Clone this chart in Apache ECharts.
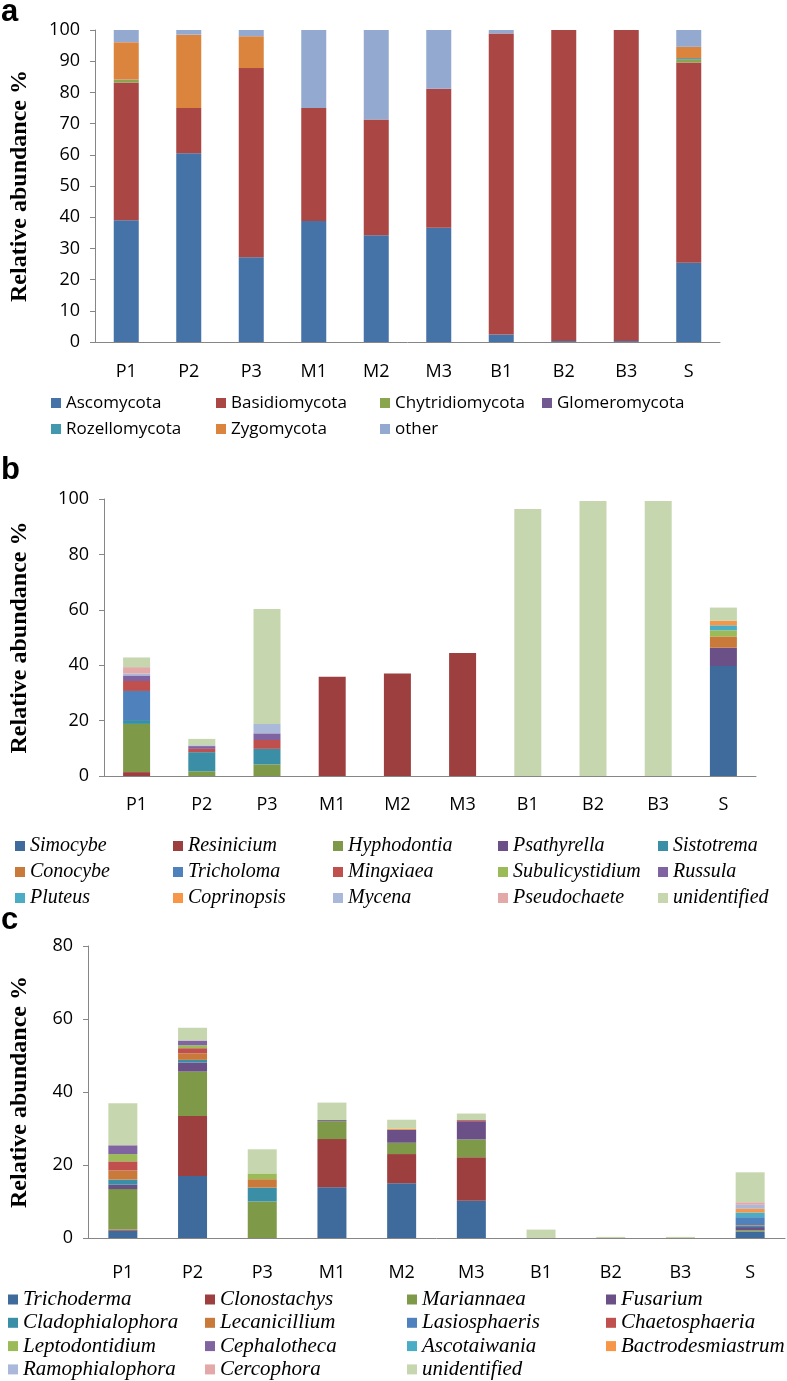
<!DOCTYPE html>
<html lang="en">
<head>
<meta charset="UTF-8">
<title>fungal community composition</title>
<script src="https://cdn.jsdelivr.net/npm/echarts@6/dist/echarts.min.js"></script>
<style>html,body{margin:0;padding:0;background:#fff;}</style>
</head>
<body>
<div id="main" style="width:787px;height:1381px;"></div>
<script>
// sample sites (x axis of every panel)
var samples = ['P1', 'P2', 'P3', 'M1', 'M2', 'M3', 'B1', 'B2', 'B3', 'S'];

// panel a - phyla, % of reads
var phyla = ['Ascomycota', 'Basidiomycota', 'Chytridiomycota', 'Glomeromycota', 'Rozellomycota', 'Zygomycota', 'other'];
var ascomycota      = [39.0, 60.5, 27.2, 38.8, 34.2, 36.6, 2.4, 0.3, 0.3, 25.4];
var basidiomycota   = [44.2, 14.5, 60.6, 36.2, 37.1, 44.6, 96.5, 99.7, 99.7, 64.2];
var chytridiomycota = [0.8, 0, 0, 0, 0, 0, 0, 0, 0, 1.0];
var glomeromycota   = [0.1, 0, 0, 0, 0, 0, 0, 0, 0, 0.1];
var rozellomycota   = [0, 0, 0, 0, 0, 0, 0, 0, 0, 0.3];
var zygomycota      = [12.0, 23.5, 10.2, 0, 0, 0, 0, 0, 0, 3.6];
var otherPhyla      = [3.9, 1.5, 2.0, 25.0, 28.7, 18.8, 1.1, 0, 0, 5.4];
var phylaValues = [ascomycota, basidiomycota, chytridiomycota, glomeromycota, rozellomycota, zygomycota, otherPhyla];
var phylaColors = ['#4572A7', '#AA4643', '#89A54E', '#71588F', '#4198AF', '#DB843D', '#93A9CF'];

// panel b - basidiomycete genera
var basidioGenera = ['Simocybe', 'Resinicium', 'Hyphodontia', 'Psathyrella', 'Sistotrema',
    'Conocybe', 'Tricholoma', 'Mingxiaea', 'Subulicystidium', 'Russula',
    'Pluteus', 'Coprinopsis', 'Mycena', 'Pseudochaete', 'unidentified'];
var simocybe        = [0, 0, 0, 0, 0, 0, 0, 0, 0, 39.7];
var resinicium      = [1.4, 0, 0, 35.8, 37.0, 44.4, 0, 0, 0, 0];
var hyphodontia     = [17.4, 1.7, 4.2, 0, 0, 0, 0, 0, 0, 0];
var psathyrella     = [0, 0, 0, 0, 0, 0, 0, 0, 0, 6.6];
var sistotrema      = [1.4, 6.9, 5.6, 0, 0, 0, 0, 0, 0, 0];
var conocybe        = [0, 0, 0, 0, 0, 0, 0, 0, 0, 4.1];
var tricholoma      = [10.5, 0, 0, 0, 0, 0, 0, 0, 0, 0];
var mingxiaea       = [3.6, 1.2, 3.2, 0, 0, 0, 0, 0, 0, 0];
var subulicystidium = [0, 0, 0, 0, 0, 0, 0, 0, 0, 2.2];
var russula         = [2.0, 1.0, 2.4, 0, 0, 0, 0, 0, 0, 0];
var pluteus         = [0, 0, 0, 0, 0, 0, 0, 0, 0, 1.8];
var coprinopsis     = [0, 0, 0, 0, 0, 0, 0, 0, 0, 1.6];
var mycena          = [0.7, 0.3, 3.4, 0, 0, 0, 0, 0, 0, 0];
var pseudochaete    = [2.3, 0, 0, 0, 0, 0, 0, 0, 0, 0];
var unidentifiedB   = [3.5, 2.3, 41.5, 0, 0, 0, 96.4, 99.3, 99.3, 4.8];
var basidioValues = [simocybe, resinicium, hyphodontia, psathyrella, sistotrema, conocybe, tricholoma,
    mingxiaea, subulicystidium, russula, pluteus, coprinopsis, mycena, pseudochaete, unidentifiedB];

// panel c - ascomycete genera
var ascoGenera = ['Trichoderma', 'Clonostachys', 'Mariannaea', 'Fusarium',
    'Cladophialophora', 'Lecanicillium', 'Lasiosphaeris', 'Chaetosphaeria',
    'Leptodontidium', 'Cephalotheca', 'Ascotaiwania', 'Bactrodesmiastrum',
    'Ramophialophora', 'Cercophora', 'unidentified'];
var trichoderma       = [2.0, 17.0, 0, 13.9, 15.0, 10.2, 0, 0, 0, 1.7];
var clonostachys      = [0.3, 16.4, 0, 13.2, 8.0, 11.9, 0, 0, 0, 0];
var mariannaea        = [11.1, 12.2, 10.0, 4.9, 3.1, 4.9, 0, 0, 0, 0.4];
var fusarium          = [1.2, 2.5, 0, 0.3, 3.5, 5.0, 0, 0, 0, 0.9];
var cladophialophora  = [1.4, 0.7, 3.8, 0, 0, 0, 0, 0, 0, 0.3];
var lecanicillium     = [2.5, 1.8, 2.3, 0, 0, 0, 0, 0, 0, 0.2];
var lasiosphaeris     = [0, 0, 0, 0, 0, 0, 0, 0, 0, 2.2];
var chaetosphaeria    = [2.5, 1.4, 0, 0, 0, 0.3, 0, 0, 0, 0];
var leptodontidium    = [2.0, 0.8, 1.6, 0, 0, 0, 0, 0, 0, 0];
var cephalotheca      = [2.4, 1.3, 0, 0, 0, 0, 0, 0, 0, 0];
var ascotaiwania      = [0, 0, 0, 0, 0, 0, 0, 0, 0, 1.3];
var bactrodesmiastrum = [0, 0, 0, 0, 0.3, 0, 0, 0, 0, 1.0];
var ramophialophora   = [0, 0, 0, 0, 0, 0, 0, 0, 0, 1.1];
var cercophora        = [0, 0, 0, 0, 0, 0, 0, 0, 0, 0.7];
var unidentifiedC     = [11.5, 3.5, 6.6, 4.8, 2.5, 1.8, 2.3, 0.3, 0.3, 8.2];
var ascoValues = [trichoderma, clonostachys, mariannaea, fusarium, cladophialophora, lecanicillium,
    lasiosphaeris, chaetosphaeria, leptodontidium, cephalotheca, ascotaiwania, bactrodesmiastrum,
    ramophialophora, cercophora, unidentifiedC];

// excel-like palette used by panels b and c
var genusColors = ['#3F6A9C', '#9C3F3E', '#7E9A48', '#6A5087', '#3A8FA7', '#C9793A',
    '#4F81BD', '#C0504D', '#9BBB59', '#8064A2', '#4BACC6', '#F79646', '#AAB8D9', '#E2A9A8', '#C6D7AF'];

var chart = echarts.init(document.getElementById('main'));

var tickFont = 'Open Sans';
var axisGrey = '#868686';

function xAxisFor(i, margin) {
    return {
        type: 'category', gridIndex: i, data: samples,
        axisLine: { lineStyle: { color: axisGrey, width: 1 } },
        axisTick: { length: 6, lineStyle: { color: axisGrey } },
        axisLabel: { margin: margin, fontSize: 18, color: '#000', fontFamily: tickFont }
    };
}
function yAxisFor(i, max, step, gap) {
    return {
        type: 'value', gridIndex: i, min: 0, max: max, interval: step,
        splitLine: { show: false },
        axisLine: { show: true, lineStyle: { color: axisGrey } },
        axisTick: { show: true, length: 5, lineStyle: { color: axisGrey } },
        axisLabel: { margin: 15, fontSize: 18, color: '#000', fontFamily: tickFont },
        name: 'Relative abundance %', nameLocation: 'middle', nameGap: gap,
        nameTextStyle: { fontFamily: 'Liberation Serif', fontWeight: 'bold', fontSize: 24, color: '#000' }
    };
}

var series = [];
function addStack(names, values, colors, idx, width) {
    names.forEach(function (n, k) {
        series.push({
            name: n, type: 'bar', stack: 'panel' + idx,
            xAxisIndex: idx, yAxisIndex: idx,
            barWidth: width, data: values[k],
            itemStyle: { color: colors[k] }
        });
    });
}
addStack(phyla, phylaValues, phylaColors, 0, 25);
addStack(basidioGenera, basidioValues, genusColors, 1, 27);
addStack(ascoGenera, ascoValues, genusColors, 2, 29);

// one small legend per entry, placed on a column/row grid like the original
var legends = [];
function addLegendGrid(names, lefts, firstRow, rowStep, text) {
    var n = lefts.length;
    names.forEach(function (name, k) {
        var col = k % n, row = Math.floor(k / n);
        legends.push({
            left: lefts[col], top: firstRow + row * rowStep - 9, padding: 0,
            itemWidth: 10, itemHeight: 10, icon: 'rect',
            selectedMode: false, data: [name],
            textStyle: Object.assign({ color: '#000', lineHeight: 18 }, text)
        });
    });
}
addLegendGrid(phyla, [51, 216, 380, 542], 403, 26, { fontFamily: 'Open Sans', fontSize: 17 });
addLegendGrid(basidioGenera, [15, 173, 333, 498, 658], 845, 26,
    { fontFamily: 'Liberation Serif', fontStyle: 'italic', fontSize: 20 });
addLegendGrid(ascoGenera, [8, 205, 407, 606], 1298, 23.3,
    { fontFamily: 'Liberation Serif', fontStyle: 'italic', fontSize: 21 });

function panelTag(t, x, y) {
    return { type: 'text', left: x, top: y,
        style: { text: t, fontFamily: 'Liberation Sans', fontWeight: 'bold', fontSize: 31, fill: '#000' } };
}

var option = {
    animation: false,
    grid: [
        { left: 88, top: 30, width: 632, height: 312 },
        { left: 97, top: 499, width: 659, height: 277 },
        { left: 79, top: 946, width: 706, height: 292 }
    ],
    xAxis: [xAxisFor(0, 21), xAxisFor(1, 20), xAxisFor(2, 26)],
    yAxis: [yAxisFor(0, 100, 10, 63), yAxisFor(1, 100, 20, 72), yAxisFor(2, 80, 20, 56)],
    legend: legends,
    graphic: [panelTag('a', 1, -3), panelTag('b', 1, 455), panelTag('c', 1, 905)],
    series: series
};

chart.setOption(option);
</script>
</body>
</html>
